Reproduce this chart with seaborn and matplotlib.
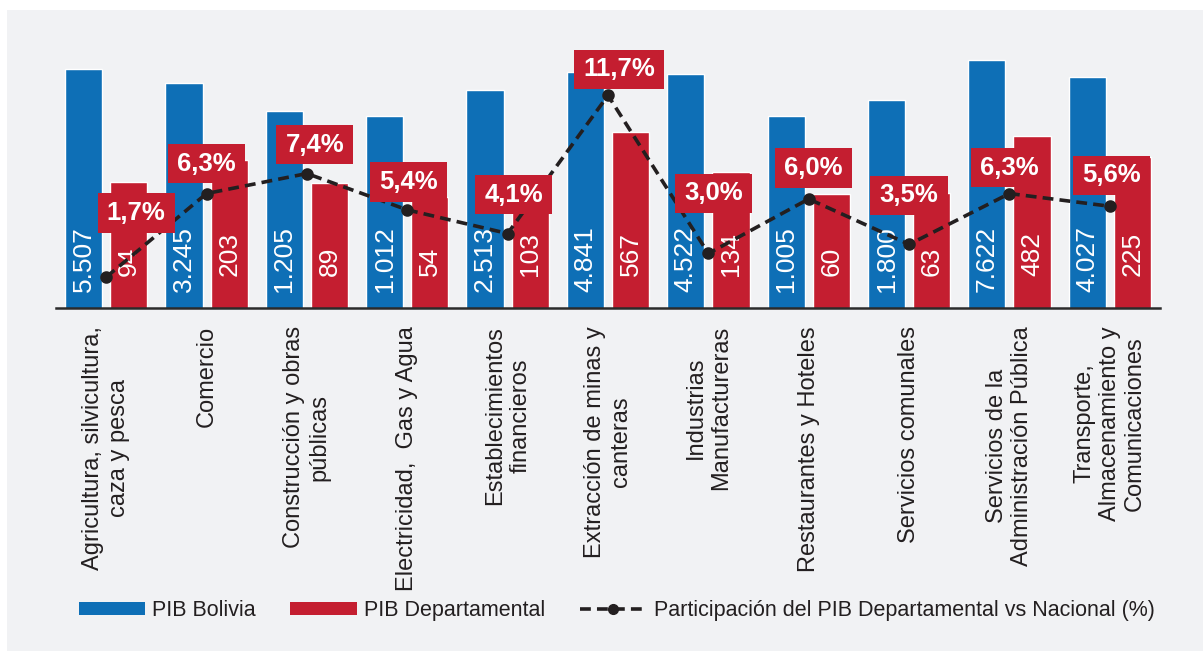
import numpy as np
import pandas as pd
import matplotlib
matplotlib.use("Agg")
import matplotlib.pyplot as plt
from matplotlib.patches import Rectangle, Patch
from matplotlib.lines import Line2D
from matplotlib.path import Path
import seaborn as sns

# ---------------- data ----------------
categorias = [
    "Agricultura, silvicultura,\ncaza y pesca",
    "Comercio",
    "Construcción y obras\npúblicas",
    "Electricidad,  Gas y Agua",
    "Establecimientos\nfinancieros",
    "Extracción de minas y\ncanteras",
    "Industrias\nManufactureras",
    "Restaurantes y Hoteles",
    "Servicios comunales",
    "Servicios de la\nAdministración Pública",
    "Transporte,\nAlmacenamiento y\nComunicaciones",
]
pib_bolivia = [5507, 3245, 1205, 1012, 2513, 4841, 4522, 1005, 1800, 7622, 4027]
pib_departamental = [94, 203, 89, 54, 103, 567, 134, 60, 63, 482, 225]
participacion = [1.7, 6.3, 7.4, 5.4, 4.1, 11.7, 3.0, 6.0, 3.5, 6.3, 5.6]
series = ["PIB Bolivia", "PIB Departamental"]
serie_linea = "Participación del PIB Departamental vs Nacional (%)"

# ---------------- style ----------------
BLUE = "#0E6FB6"
RED = "#C41E30"
DARK = "#231F20"
PANEL = "#F1F2F4"

sns.set_theme(style="white")
plt.rcParams["font.family"] = ["Liberation Sans", "DejaVu Sans"]

W, H = 1203, 651
fig = plt.figure(figsize=(W / 100, H / 100), dpi=100, facecolor="white")
fig.patches.append(Rectangle((7 / W, 0), 1 - 7 / W, (H - 10) / H,
                             transform=fig.transFigure, facecolor=PANEL,
                             edgecolor="none", zorder=-10))

base_px, top_px = 308, 40
ax = fig.add_axes([56 / W, (H - base_px) / H, (1160 - 56) / W, (base_px - top_px) / H])
ax.set_facecolor("none")

df = pd.DataFrame({
    "sector": categorias * 2,
    "valor": pib_bolivia + pib_departamental,
    "serie": [series[0]] * len(categorias) + [series[1]] * len(categorias),
})

sns.barplot(data=df, x="sector", y="valor", hue="serie", hue_order=series,
            palette=[BLUE, RED], width=0.9, gap=0.178, log_scale=True,
            legend=False, ax=ax, saturation=1, errorbar=None)
ax.set_yscale("log")
ax.set_ylim(1, 10 ** ((base_px - top_px) / 64.0))

def fmt_miles(v):
    return f"{v:,}".replace(",", ".")

for cont, vals, off in zip(ax.containers, [pib_bolivia, pib_departamental], [16, 32]):
    for rect, v in zip(cont, vals):
        ax.annotate(fmt_miles(v), xy=(rect.get_x() + rect.get_width() / 2, 1),
                    xytext=(0, off), textcoords="offset pixels", rotation=90,
                    ha="center", va="bottom", color="white", fontsize=19)

# axis styling
for s in ["left", "right", "top"]:
    ax.spines[s].set_visible(False)
ax.spines["bottom"].set_color("#2B2B2B")
ax.spines["bottom"].set_linewidth(1.8)
ax.set_yticks([])
ax.minorticks_off()
ax.set_yticks([], minor=True)
ax.set_xlabel("")
ax.set_ylabel("")
ax.set_xticks(range(len(categorias)))
ax.set_xticklabels(categorias, rotation=90, fontsize=17, color=DARK,
                   ha="center", va="top", linespacing=1.2)
ax.set_xticks(np.arange(-0.5, len(categorias), 1), minor=True)
ax.tick_params(axis="x", which="major", length=0, pad=13)
ax.tick_params(axis="x", which="minor", length=8, width=1.8, color="#2B2B2B",
               direction="inout")
ax.set_xlim(-0.5, len(categorias) - 0.5)

# line on twin axis
ax2 = ax.twinx()
ax2.set_facecolor("none")
dfl = pd.DataFrame({"sector": categorias, "pct": participacion})
sns.pointplot(data=dfl, x="sector", y="pct", ax=ax2, color=DARK,
              markers="o", linestyles="--", errorbar=None)
for ln in ax2.lines:
    ln.set_linewidth(2.6)
    ln.set_dashes([3.0, 1.7])
    ln.set_markersize(7)
ax2.set_ylim(0, (base_px - top_px) / 18.17)
ax2.set_xlim(-0.5, len(categorias) - 0.5)
for s in ax2.spines.values():
    s.set_visible(False)
ax2.set_yticks([])
ax2.set_ylabel("")
ax2.set_xlabel("")


def label_box(x0, y0, width, height, mutation_size, padx=0.36, pady=0.3):
    px, py = padx * mutation_size, pady * mutation_size
    xa, ya = x0 - px, y0 - py
    xb, yb = x0 + width + px, y0 + height + py
    return Path([(xa, ya), (xb, ya), (xb, yb), (xa, yb), (xa, ya)],
                [Path.MOVETO, Path.LINETO, Path.LINETO, Path.LINETO, Path.CLOSEPOLY])


offsets = [(30, 64), (0, 30), (8, 29), (1, 28), (6, 39), (11, 26),
           (5, 60), (5, 31), (0, 49), (0, 26), (2, 31)]
for i, (p, (dx, dy)) in enumerate(zip(participacion, offsets)):
    txt = f"{p:.1f}%".replace(".", ",")
    ax2.annotate(txt, xy=(i, p), xytext=(dx, dy), textcoords="offset pixels",
                 ha="center", va="center", fontsize=18.5, fontweight="bold",
                 color="white", zorder=6,
                 bbox=dict(boxstyle=label_box, fc=RED, ec="none"))

# legend
handles = [
    Patch(facecolor=BLUE, edgecolor="none"),
    Patch(facecolor=RED, edgecolor="none"),
    Line2D([], [], color=DARK, lw=2.6, dashes=[3.0, 1.7], marker="o", markersize=7),
]
fig.legend(handles, series + [serie_linea], loc="center left",
           bbox_to_anchor=(78.5 / W, 1 - 610.7 / H), ncol=3, frameon=False,
           borderpad=0, borderaxespad=0, fontsize=15.5, handlelength=3.1,
           handleheight=0.5, handletextpad=0.33, columnspacing=1.6,
           labelcolor=DARK)

fig.savefig("out.png", dpi=100, facecolor="white")
